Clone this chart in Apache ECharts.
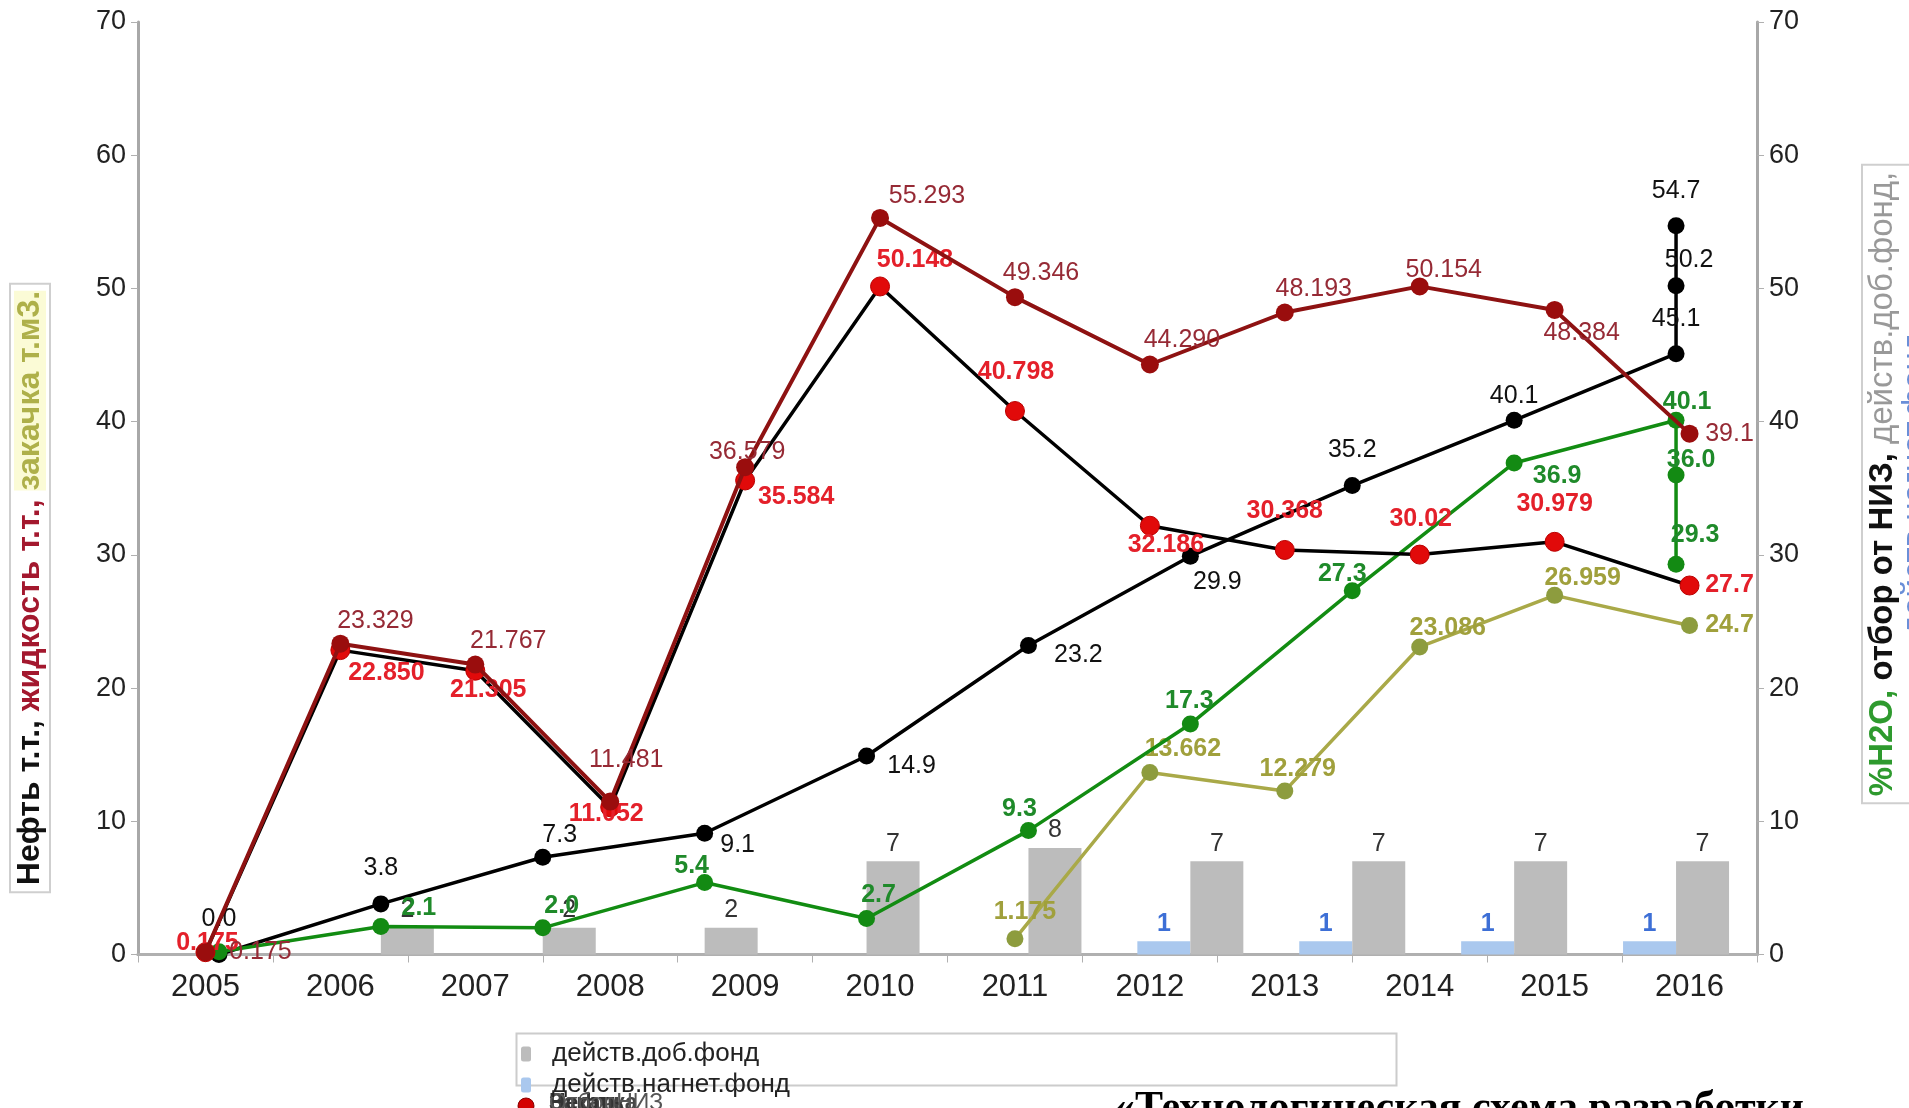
<!DOCTYPE html>
<html><head><meta charset="utf-8">
<script src="https://cdn.jsdelivr.net/npm/echarts@6/dist/echarts.min.js"></script>
<style>html,body{margin:0;padding:0;background:#fff}#c{width:1909px;height:1108px}</style>
</head><body><div id="c"></div>
<script>
// ---- data ----
const years = ['2005','2006','2007','2008','2009','2010','2011','2012','2013','2014','2015','2016'];
const steps = ['0','1','2','3','4','5','6','7','8','9'];
const liquid = ['0.175','23.329','21.767','11.481','36.579','55.293','49.346','44.290','48.193','50.154','48.384','39.1'];
const oil = ['0.175','22.850','21.305','11.052','35.584','50.148','40.798','32.186','30.368','30.02','30.979','27.7'];
const injection = [null,null,null,null,null,null,'1.175','13.662','12.279','23.086','26.959','24.7'];
const recoveryStep = [0,1,2,3,4,5,6,7,8,9,9,9];
const recovery = ['0.0','3.8','7.3','9.1','14.9','23.2','29.9','35.2','40.1','45.1','50.2','54.7'];
const waterStep = [0,1,2,3,4,5,6,7,8,9,9,9];
const water = ['0.2','2.1','2.0','5.4','2.7','9.3','17.3','27.3','36.9','40.1','36.0','29.3'];
const prodWells = [null,2,2,2,7,8,7,7,7,7];
const injWells = [null,null,null,null,null,null,1,1,1,1];

// ---- label placement (style, not data) ----
const liquidOff = [[55,0],[35,-23],[33,-23],[16,-41],[2,-15],[47,-22],[26,-24],[32,-24],[29,-23],[24,-16],[27,23],[40,0]];
const oilOff = [[2,-9],[46,23],[13,19],[-4,7],[51,17],[35,-26],[1,-39],[16,19],[0,-39],[1,-35],[0,-38],[40,0]];
const injOff = [null,null,null,null,null,null,[10,-27],[33,-23],[13,-22],[28,-19],[28,-17],[40,0]];
const recOff = [[0,-35],[0,-36],[17,-22],[33,12],[45,10],[50,10],[27,26],[0,-35],[0,-24],[0,-35],[13,-26],[0,-35]];
const watOff = [null,[38,-18],[19,-22],[-13,-16],[12,-23],[-9,-22],[-1,-23],[-10,-17],[43,13],[11,-18],[15,-15],[19,-29]];

const FONT = "'Liberation Sans', Arial, sans-serif";
function catData(vals, offs) {
  return vals.map((s, i) => s == null ? null : ({
    value: parseFloat(s), txt: s,
    label: offs[i] ? { show: true, offset: offs[i] } : { show: false }
  }));
}
function pairData(idx, vals, offs) {
  return vals.map((s, i) => ({
    value: [idx[i], parseFloat(s)], txt: s,
    label: offs[i] ? { show: true, offset: offs[i] } : { show: false }
  }));
}
function lbl(color, weight) {
  return { show: true, position: 'inside', fontSize: 25, fontFamily: FONT, color: color,
           fontWeight: weight || 'normal', formatter: p => p.data.txt };
}

const chart = echarts.init(document.getElementById('c'), null, { renderer: 'canvas' });
chart.setOption({
  animation: false,
  backgroundColor: '#fff',
  textStyle: { fontFamily: FONT },
  grid: { left: 138, right: 152, top: 22, bottom: 153.5, containLabel: false, outerBoundsMode: 'none' },
  legend: {
    orient: 'vertical', left: 516, top: 1036, itemWidth: 10, itemHeight: 15, itemGap: 5,
    data: ['действ.доб.фонд', 'действ.нагнет.фонд'],
    textStyle: { fontSize: 26, color: '#222', fontFamily: FONT, padding: [0, 0, 0, 16] }
  },
  xAxis: [
    { type: 'category', data: years, position: 'bottom',
      axisLine: { lineStyle: { color: '#a8a8a8', width: 3 } },
      axisTick: { show: true, length: 8, lineStyle: { color: '#b0b0b0', width: 1 } },
      axisLabel: { fontSize: 31, color: '#222', margin: 17, fontFamily: FONT },
      splitLine: { show: false } },
    { type: 'category', data: steps, position: 'top',
      axisLine: { show: true, lineStyle: { color: '#b0b0b0', width: 3 } },
      axisTick: { show: false }, axisLabel: { show: false }, splitLine: { show: false } }
  ],
  yAxis: [
    { type: 'value', min: 0, max: 70, interval: 10, position: 'left',
      axisLine: { show: true, lineStyle: { color: '#a8a8a8', width: 3 } },
      axisTick: { show: true, length: 7, lineStyle: { color: '#b0b0b0', width: 1 } },
      axisLabel: { fontSize: 27, color: '#222', margin: 12, fontFamily: FONT },
      splitLine: { show: false } },
    { type: 'value', min: 0, max: 70, interval: 10, position: 'right',
      axisLine: { show: true, lineStyle: { color: '#a8a8a8', width: 3 } },
      axisTick: { show: true, length: 7, lineStyle: { color: '#b0b0b0', width: 1 } },
      axisLabel: { fontSize: 27, color: '#222', margin: 12, fontFamily: FONT },
      splitLine: { show: false } }
  ],
  series: [
    { name: 'действ.нагнет.фонд', type: 'bar', xAxisIndex: 1, yAxisIndex: 0, data: injWells,
      barWidth: 53, barGap: '0%', itemStyle: { color: '#aac8ee' },
      label: { show: true, position: 'top', fontSize: 25, color: '#3d6fd6', fontWeight: 'bold', fontFamily: FONT } },
    { name: 'действ.доб.фонд', type: 'bar', xAxisIndex: 1, yAxisIndex: 0, data: prodWells,
      barWidth: 53, barGap: '0%', itemStyle: { color: '#bcbcbc' },
      label: { show: true, position: 'top', fontSize: 25, color: '#333', fontFamily: FONT } },
    { name: 'Закачка', type: 'line', xAxisIndex: 0, data: catData(injection, injOff),
      symbol: 'circle', symbolSize: 17, lineStyle: { color: '#a9a948', width: 3.5 },
      itemStyle: { color: '#8d9c3e' }, label: lbl('#a0a03c', 'bold'), z: 3 },
    { name: 'ОтборНИЗ', type: 'line', xAxisIndex: 1, data: pairData(recoveryStep, recovery, recOff),
      symbol: 'circle', symbolSize: 17, lineStyle: { color: '#000', width: 3.5 },
      itemStyle: { color: '#000' }, label: lbl('#111'), z: 4 },
    { name: '%H2O', type: 'line', xAxisIndex: 1, data: pairData(waterStep, water, watOff),
      symbol: 'circle', symbolSize: 17, lineStyle: { color: '#128c12', width: 3.5 },
      itemStyle: { color: '#138a13' }, label: lbl('#1f8a2a', 'bold'), z: 4 },
    { name: 'Нефть', type: 'line', xAxisIndex: 0, data: catData(oil, oilOff),
      symbol: 'circle', symbolSize: 19, lineStyle: { color: '#000', width: 3.5 },
      itemStyle: { color: '#e10a0a', borderColor: '#b00', borderWidth: 1 }, label: lbl('#e4202a', 'bold'), z: 5 },
    { name: 'Жидкость', type: 'line', xAxisIndex: 0, data: catData(liquid, liquidOff),
      symbol: 'circle', symbolSize: 18, lineStyle: { color: '#8e1212', width: 4 },
      itemStyle: { color: '#9a0d0d' }, label: lbl('#962a35'), z: 6 }
  ],
  graphic: [
    { type: 'text', x: 30, y: 588, rotation: Math.PI / 2,
      style: { text: '{a|Нефть т.т.,} {b|жидкость т.т.,} {c|закачка т.м3.}', align: 'center', verticalAlign: 'middle',
        backgroundColor: '#fff', borderColor: '#cfcfcf', borderWidth: 2, padding: [3, 6, 3, 6],
        font: "bold 32px " + FONT,
        rich: {
          a: { fontSize: 32, fontWeight: 'bold', fill: '#111', fontFamily: FONT },
          b: { fontSize: 32, fontWeight: 'bold', fill: '#a3182e', fontFamily: FONT },
          c: { fontSize: 32, fontWeight: 'bold', fill: '#aeb04a', backgroundColor: '#fbfbd6', fontFamily: FONT }
        } } },
    { type: 'text', x: 1899, y: 484, rotation: Math.PI / 2,
      style: { text: '{a|%H2O,} {b|отбор от НИЗ,} {c|действ.доб.фонд,}\n{d|действ.нагнет.фонд}', align: 'center', verticalAlign: 'middle',
        backgroundColor: '#fff', borderColor: '#cfcfcf', borderWidth: 2, padding: [3, 6, 3, 6],
        font: "33px " + FONT,
        rich: {
          a: { fontSize: 33, fontWeight: 'bold', fill: '#2e9a2e', fontFamily: FONT },
          b: { fontSize: 33, fontWeight: 'bold', fill: '#111', fontFamily: FONT },
          c: { fontSize: 33, fill: '#999', fontFamily: FONT },
          d: { fontSize: 33, fill: '#6a8fd8', fontFamily: FONT }
        } } },
    { type: 'rect', left: 514, top: 1031, shape: { width: 880, height: 52 },
      style: { fill: 'none', stroke: '#cccccc', lineWidth: 2 }, z: -1 },
    { type: 'circle', shape: { cx: 526, cy: 1106, r: 8 }, style: { fill: '#d40000', stroke: '#800' } },
    { type: 'text', left: 549, top: 1092, style: { text: 'Закачка', fill: '#444', font: "bold 23px " + FONT } },
    { type: 'text', left: 549, top: 1092, style: { text: 'Нефть', fill: '#333', font: "bold 23px " + FONT } },
    { type: 'text', left: 549, top: 1092, style: { text: 'ОтборНИЗ', fill: '#555', font: "23px " + FONT } },
    { type: 'text', left: 1114, top: 1088, style: { text: '«Технологическая схема разработки', fill: '#000',
      font: "bold 42px 'Liberation Serif', 'Times New Roman', serif" } }
  ]
});
</script>
</body></html>
